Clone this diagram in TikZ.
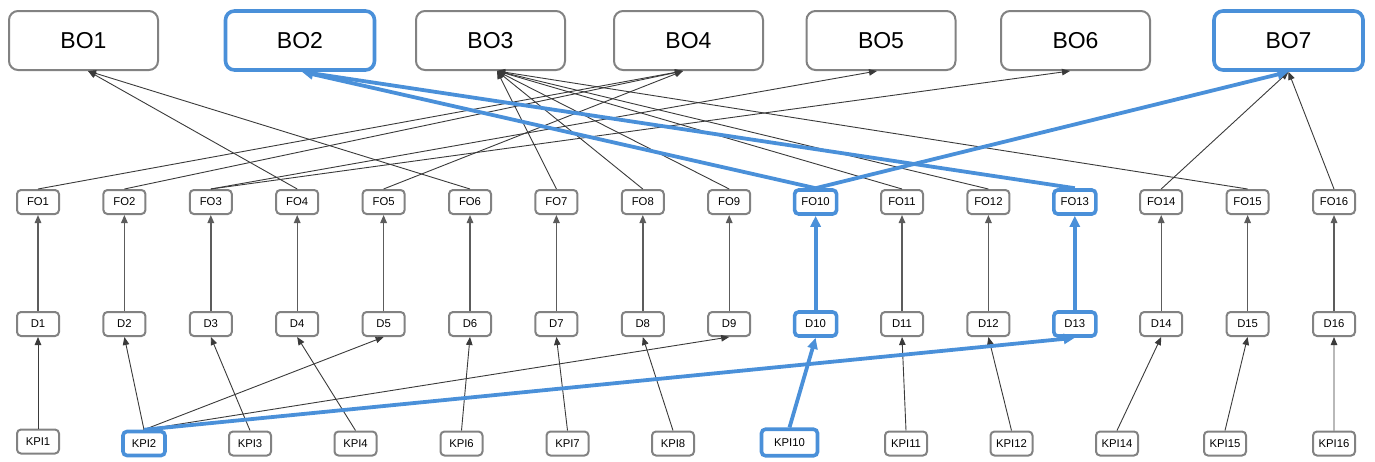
\documentclass[tikz,border=0pt]{standalone}
\usepackage{fontspec}
\setmainfont{Liberation Sans}
\usetikzlibrary{arrows.meta,calc}
\definecolor{hl}{HTML}{4A90D9}
\definecolor{boxgray}{HTML}{828282}
\definecolor{edgegray}{HTML}{3A3A3A}
\definecolor{vgray}{HTML}{5C5C5C}

\begin{document}
\begin{tikzpicture}[x=1pt,y=-1pt,
  bo/.style={draw=boxgray, line width=2pt, rounded corners=9pt,
    minimum width=149pt, minimum height=59pt, inner sep=0pt,
    font=\fontsize{23}{23}\selectfont, fill=white},
  sm/.style={draw=boxgray, line width=2pt, rounded corners=4pt,
    minimum width=42pt, minimum height=24pt, inner sep=0pt,
    font=\fontsize{11.3}{11.3}\selectfont, fill=white},
  hot/.style={draw=hl, line width=3.6pt},
  hi10/.style={hot}, hi13/.style={hot},
  link/.style={draw=edgegray, line width=0.9pt,
    -{Triangle[length=8pt,width=6.5pt]}},
  vlink/.style={link, draw=vgray, line width=1.4pt},
  hotlink/.style={draw=hl, line width=3.8pt,
    -{Triangle[length=11pt,width=10pt]}},
]
\useasboundingbox (0,0) rectangle (1375,461);

% business objectives
\node[bo] (BO1) at (83.5,40.5) {BO1};
\node[bo,hot] (BO2) at (300,40.5) {BO2};
\node[bo] (BO3) at (490.5,40.5) {BO3};
\node[bo] (BO4) at (688.5,40.5) {BO4};
\node[bo] (BO5) at (881,40.5) {BO5};
\node[bo] (BO6) at (1075.5,40.5) {BO6};
\node[bo,hot] (BO7) at (1288.5,40.5) {BO7};

% arrival points on the lower edge of each objective
\coordinate (BO1in) at ($(BO1.south)+(4.5,0)$);
\coordinate (BO2in) at ($(BO2.south)+(2,0)$);
\coordinate (BO3in) at ($(BO3.south)+(6.5,0)$);
\coordinate (BO4in) at ($(BO4.south)+(-5.5,0)$);
\coordinate (BO5in) at ($(BO5.south)+(-4,0)$);
\coordinate (BO6in) at ($(BO6.south)+(-5.5,0)$);
\coordinate (BO7in) at ($(BO7.south)+(0,0)$);

% functional objectives and drivers
\foreach \i in {1,...,16}{
  \pgfmathsetmacro\xx{38+(\i-1)*86.4}
  \node[sm,hi\i/.try] (FO\i) at (\xx,202) {FO\i};
  \node[sm,hi\i/.try] (D\i) at (\xx,324) {D\i};
}

% indicators
\foreach \n/\x/\y in {1/38/441.5, 2/144/443.5, 3/250/443.5, 4/355.5/443.5,
    6/461.5/443.5, 7/567.5/443.5, 8/673/443.5, 11/906/443.5,
    12/1011.5/443.5, 14/1117/443.5, 15/1225/443.5, 16/1334/443.5}{
  \node[sm] (KPI\n) at (\x,\y) {KPI\n};
}
\node[sm,hot] (KPI2) at (144,443.5) {KPI2};
\node[sm,hot,minimum width=56pt,minimum height=26.5pt] (KPI10) at (789.5,442.5) {KPI10};

% functional objectives -> business objectives
\foreach \f/\b in {4/1, 6/1, 7/3, 8/3, 9/3, 11/3, 12/3, 15/3,
    1/4, 2/4, 5/4, 3/5, 3/6, 14/7, 16/7}{
  \draw[link] (FO\f.north) -- (BO\b in);
}

% drivers -> functional objectives
\foreach \i in {1,...,9,11,12,14,15,16}{
  \draw[vlink] (D\i.north) -- (FO\i.south);
}

% indicators -> drivers
\foreach \k/\d in {1/1, 2/2, 2/5, 2/9, 3/3, 4/4, 6/6, 7/7, 8/8,
    11/11, 12/12, 14/14, 15/15, 16/16}{
  \draw[link] (KPI\k.north) -- (D\d.south);
}

% highlighted chain
\draw[hotlink] (FO10.north) -- (BO2in);
\draw[hotlink] (FO13.north) -- (BO2in);
\draw[hotlink] (FO10.north) -- (BO7in);
\draw[hotlink] (D10.north) -- (FO10.south);
\draw[hotlink] (D13.north) -- (FO13.south);
\draw[hotlink] (KPI10.north) -- (D10.south);
\draw[hotlink] (KPI2.north) -- (D13.south);
\end{tikzpicture}
\end{document}
